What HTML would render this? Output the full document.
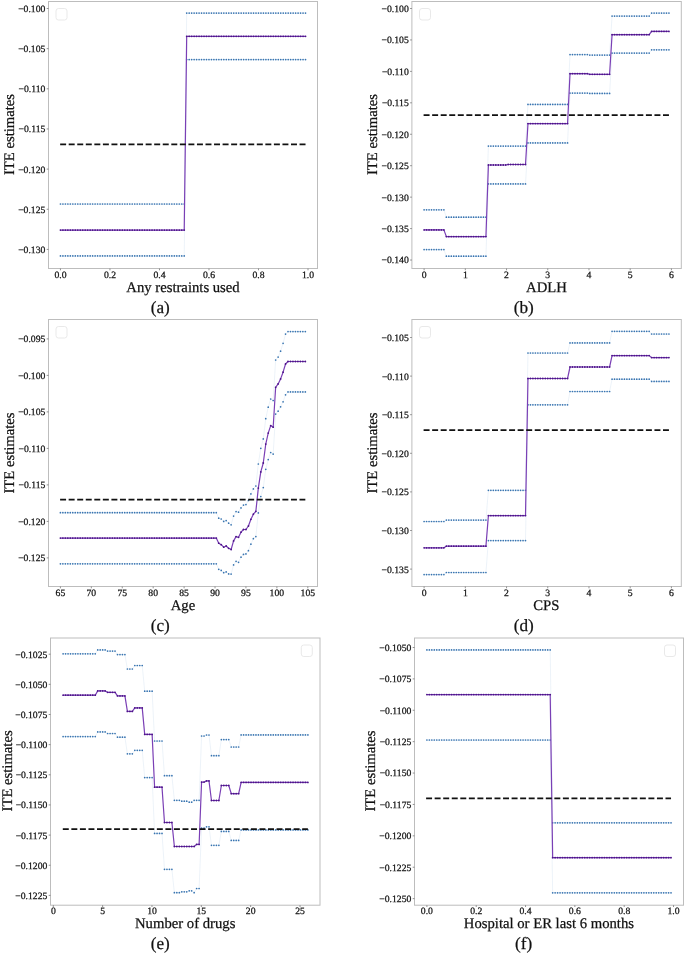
<!DOCTYPE html>
<html><head><meta charset="utf-8"><title>ITE plots</title>
<style>
html,body{margin:0;padding:0;background:#fff;}
svg{display:block;will-change:transform;}
text{font-family:"Liberation Serif",serif;fill:#111;stroke:#111;stroke-width:0.25px;text-rendering:geometricPrecision;}
.yt{font-size:9.7px;text-anchor:end;}
.xt{font-size:9.7px;text-anchor:middle;}
.xl{font-size:14.7px;text-anchor:middle;}
.yl{font-size:14.7px;text-anchor:middle;}
.cp{font-size:17.2px;text-anchor:middle;}
.sp{fill:none;stroke:#bdbdbd;stroke-width:1;}
.tk{stroke:#777;stroke-width:0.8;}
.lg{fill:none;stroke:#e3e3e3;stroke-width:0.8;}
.dash{stroke:#111;stroke-width:1.75;stroke-dasharray:5.97 2.58;}
.bl{fill:none;stroke:#dbe7f3;stroke-width:0.5;}
.bm{fill:none;stroke:none;marker-start:url(#mb);marker-mid:url(#mb);marker-end:url(#mb);}
.pl{fill:none;stroke:#7a3fb5;stroke-width:1.2;stroke-linejoin:round;}
.pm{fill:none;stroke:none;marker-start:url(#mp);marker-mid:url(#mp);marker-end:url(#mp);}
</style></head>
<body>
<svg width="685" height="954" viewBox="0 0 685 954">
<defs>
<marker id="mb" markerUnits="userSpaceOnUse" markerWidth="4" markerHeight="4" refX="2" refY="2" overflow="visible"><circle cx="2" cy="2" r="0.85" fill="#3874b0"/></marker>
<marker id="mp" markerUnits="userSpaceOnUse" markerWidth="4" markerHeight="4" refX="2" refY="2" overflow="visible"><circle cx="2" cy="2" r="0.9" fill="#4c1488"/></marker>
</defs>
<polyline points="60.45,204 62.93,204 65.4,204 67.88,204 70.35,204 72.83,204 75.3,204 77.78,204 80.25,204 82.73,204 85.2,204 87.68,204 90.16,204 92.63,204 95.11,204 97.58,204 100.06,204 102.53,204 105.01,204 107.48,204 109.96,204 112.44,204 114.91,204 117.39,204 119.86,204 122.34,204 124.81,204 127.29,204 129.76,204 132.24,204 134.72,204 137.19,204 139.67,204 142.14,204 144.62,204 147.09,204 149.57,204 152.04,204 154.52,204 156.99,204 159.47,204 161.95,204 164.42,204 166.9,204 169.37,204 171.85,204 174.32,204 176.8,204 179.27,204 181.75,204 184.22,204 186.7,13.1 189.18,13.1 191.65,13.1 194.13,13.1 196.6,13.1 199.08,13.1 201.55,13.1 204.03,13.1 206.5,13.1 208.98,13.1 211.46,13.1 213.93,13.1 216.41,13.1 218.88,13.1 221.36,13.1 223.83,13.1 226.31,13.1 228.78,13.1 231.26,13.1 233.74,13.1 236.21,13.1 238.69,13.1 241.16,13.1 243.64,13.1 246.11,13.1 248.59,13.1 251.06,13.1 253.54,13.1 256.01,13.1 258.49,13.1 260.97,13.1 263.44,13.1 265.92,13.1 268.39,13.1 270.87,13.1 273.34,13.1 275.82,13.1 278.29,13.1 280.77,13.1 283.25,13.1 285.72,13.1 288.2,13.1 290.67,13.1 293.15,13.1 295.62,13.1 298.1,13.1 300.57,13.1 303.05,13.1 305.52,13.1" class="bl"/>
<polyline points="60.45,204 62.93,204 65.4,204 67.88,204 70.35,204 72.83,204 75.3,204 77.78,204 80.25,204 82.73,204 85.2,204 87.68,204 90.16,204 92.63,204 95.11,204 97.58,204 100.06,204 102.53,204 105.01,204 107.48,204 109.96,204 112.44,204 114.91,204 117.39,204 119.86,204 122.34,204 124.81,204 127.29,204 129.76,204 132.24,204 134.72,204 137.19,204 139.67,204 142.14,204 144.62,204 147.09,204 149.57,204 152.04,204 154.52,204 156.99,204 159.47,204 161.95,204 164.42,204 166.9,204 169.37,204 171.85,204 174.32,204 176.8,204 179.27,204 181.75,204 184.22,204 186.7,13.1 189.18,13.1 191.65,13.1 194.13,13.1 196.6,13.1 199.08,13.1 201.55,13.1 204.03,13.1 206.5,13.1 208.98,13.1 211.46,13.1 213.93,13.1 216.41,13.1 218.88,13.1 221.36,13.1 223.83,13.1 226.31,13.1 228.78,13.1 231.26,13.1 233.74,13.1 236.21,13.1 238.69,13.1 241.16,13.1 243.64,13.1 246.11,13.1 248.59,13.1 251.06,13.1 253.54,13.1 256.01,13.1 258.49,13.1 260.97,13.1 263.44,13.1 265.92,13.1 268.39,13.1 270.87,13.1 273.34,13.1 275.82,13.1 278.29,13.1 280.77,13.1 283.25,13.1 285.72,13.1 288.2,13.1 290.67,13.1 293.15,13.1 295.62,13.1 298.1,13.1 300.57,13.1 303.05,13.1 305.52,13.1" class="bm"/>
<polyline points="60.45,255.9 62.93,255.9 65.4,255.9 67.88,255.9 70.35,255.9 72.83,255.9 75.3,255.9 77.78,255.9 80.25,255.9 82.73,255.9 85.2,255.9 87.68,255.9 90.16,255.9 92.63,255.9 95.11,255.9 97.58,255.9 100.06,255.9 102.53,255.9 105.01,255.9 107.48,255.9 109.96,255.9 112.44,255.9 114.91,255.9 117.39,255.9 119.86,255.9 122.34,255.9 124.81,255.9 127.29,255.9 129.76,255.9 132.24,255.9 134.72,255.9 137.19,255.9 139.67,255.9 142.14,255.9 144.62,255.9 147.09,255.9 149.57,255.9 152.04,255.9 154.52,255.9 156.99,255.9 159.47,255.9 161.95,255.9 164.42,255.9 166.9,255.9 169.37,255.9 171.85,255.9 174.32,255.9 176.8,255.9 179.27,255.9 181.75,255.9 184.22,255.9 186.7,59.6 189.18,59.6 191.65,59.6 194.13,59.6 196.6,59.6 199.08,59.6 201.55,59.6 204.03,59.6 206.5,59.6 208.98,59.6 211.46,59.6 213.93,59.6 216.41,59.6 218.88,59.6 221.36,59.6 223.83,59.6 226.31,59.6 228.78,59.6 231.26,59.6 233.74,59.6 236.21,59.6 238.69,59.6 241.16,59.6 243.64,59.6 246.11,59.6 248.59,59.6 251.06,59.6 253.54,59.6 256.01,59.6 258.49,59.6 260.97,59.6 263.44,59.6 265.92,59.6 268.39,59.6 270.87,59.6 273.34,59.6 275.82,59.6 278.29,59.6 280.77,59.6 283.25,59.6 285.72,59.6 288.2,59.6 290.67,59.6 293.15,59.6 295.62,59.6 298.1,59.6 300.57,59.6 303.05,59.6 305.52,59.6" class="bl"/>
<polyline points="60.45,255.9 62.93,255.9 65.4,255.9 67.88,255.9 70.35,255.9 72.83,255.9 75.3,255.9 77.78,255.9 80.25,255.9 82.73,255.9 85.2,255.9 87.68,255.9 90.16,255.9 92.63,255.9 95.11,255.9 97.58,255.9 100.06,255.9 102.53,255.9 105.01,255.9 107.48,255.9 109.96,255.9 112.44,255.9 114.91,255.9 117.39,255.9 119.86,255.9 122.34,255.9 124.81,255.9 127.29,255.9 129.76,255.9 132.24,255.9 134.72,255.9 137.19,255.9 139.67,255.9 142.14,255.9 144.62,255.9 147.09,255.9 149.57,255.9 152.04,255.9 154.52,255.9 156.99,255.9 159.47,255.9 161.95,255.9 164.42,255.9 166.9,255.9 169.37,255.9 171.85,255.9 174.32,255.9 176.8,255.9 179.27,255.9 181.75,255.9 184.22,255.9 186.7,59.6 189.18,59.6 191.65,59.6 194.13,59.6 196.6,59.6 199.08,59.6 201.55,59.6 204.03,59.6 206.5,59.6 208.98,59.6 211.46,59.6 213.93,59.6 216.41,59.6 218.88,59.6 221.36,59.6 223.83,59.6 226.31,59.6 228.78,59.6 231.26,59.6 233.74,59.6 236.21,59.6 238.69,59.6 241.16,59.6 243.64,59.6 246.11,59.6 248.59,59.6 251.06,59.6 253.54,59.6 256.01,59.6 258.49,59.6 260.97,59.6 263.44,59.6 265.92,59.6 268.39,59.6 270.87,59.6 273.34,59.6 275.82,59.6 278.29,59.6 280.77,59.6 283.25,59.6 285.72,59.6 288.2,59.6 290.67,59.6 293.15,59.6 295.62,59.6 298.1,59.6 300.57,59.6 303.05,59.6 305.52,59.6" class="bm"/>
<polyline points="60.45,230.1 62.93,230.1 65.4,230.1 67.88,230.1 70.35,230.1 72.83,230.1 75.3,230.1 77.78,230.1 80.25,230.1 82.73,230.1 85.2,230.1 87.68,230.1 90.16,230.1 92.63,230.1 95.11,230.1 97.58,230.1 100.06,230.1 102.53,230.1 105.01,230.1 107.48,230.1 109.96,230.1 112.44,230.1 114.91,230.1 117.39,230.1 119.86,230.1 122.34,230.1 124.81,230.1 127.29,230.1 129.76,230.1 132.24,230.1 134.72,230.1 137.19,230.1 139.67,230.1 142.14,230.1 144.62,230.1 147.09,230.1 149.57,230.1 152.04,230.1 154.52,230.1 156.99,230.1 159.47,230.1 161.95,230.1 164.42,230.1 166.9,230.1 169.37,230.1 171.85,230.1 174.32,230.1 176.8,230.1 179.27,230.1 181.75,230.1 184.22,230.1 186.7,36.3 189.18,36.3 191.65,36.3 194.13,36.3 196.6,36.3 199.08,36.3 201.55,36.3 204.03,36.3 206.5,36.3 208.98,36.3 211.46,36.3 213.93,36.3 216.41,36.3 218.88,36.3 221.36,36.3 223.83,36.3 226.31,36.3 228.78,36.3 231.26,36.3 233.74,36.3 236.21,36.3 238.69,36.3 241.16,36.3 243.64,36.3 246.11,36.3 248.59,36.3 251.06,36.3 253.54,36.3 256.01,36.3 258.49,36.3 260.97,36.3 263.44,36.3 265.92,36.3 268.39,36.3 270.87,36.3 273.34,36.3 275.82,36.3 278.29,36.3 280.77,36.3 283.25,36.3 285.72,36.3 288.2,36.3 290.67,36.3 293.15,36.3 295.62,36.3 298.1,36.3 300.57,36.3 303.05,36.3 305.52,36.3" class="pl"/>
<polyline points="60.45,230.1 62.93,230.1 65.4,230.1 67.88,230.1 70.35,230.1 72.83,230.1 75.3,230.1 77.78,230.1 80.25,230.1 82.73,230.1 85.2,230.1 87.68,230.1 90.16,230.1 92.63,230.1 95.11,230.1 97.58,230.1 100.06,230.1 102.53,230.1 105.01,230.1 107.48,230.1 109.96,230.1 112.44,230.1 114.91,230.1 117.39,230.1 119.86,230.1 122.34,230.1 124.81,230.1 127.29,230.1 129.76,230.1 132.24,230.1 134.72,230.1 137.19,230.1 139.67,230.1 142.14,230.1 144.62,230.1 147.09,230.1 149.57,230.1 152.04,230.1 154.52,230.1 156.99,230.1 159.47,230.1 161.95,230.1 164.42,230.1 166.9,230.1 169.37,230.1 171.85,230.1 174.32,230.1 176.8,230.1 179.27,230.1 181.75,230.1 184.22,230.1 186.7,36.3 189.18,36.3 191.65,36.3 194.13,36.3 196.6,36.3 199.08,36.3 201.55,36.3 204.03,36.3 206.5,36.3 208.98,36.3 211.46,36.3 213.93,36.3 216.41,36.3 218.88,36.3 221.36,36.3 223.83,36.3 226.31,36.3 228.78,36.3 231.26,36.3 233.74,36.3 236.21,36.3 238.69,36.3 241.16,36.3 243.64,36.3 246.11,36.3 248.59,36.3 251.06,36.3 253.54,36.3 256.01,36.3 258.49,36.3 260.97,36.3 263.44,36.3 265.92,36.3 268.39,36.3 270.87,36.3 273.34,36.3 275.82,36.3 278.29,36.3 280.77,36.3 283.25,36.3 285.72,36.3 288.2,36.3 290.67,36.3 293.15,36.3 295.62,36.3 298.1,36.3 300.57,36.3 303.05,36.3 305.52,36.3" class="pm"/>
<line x1="60.15" y1="144.45" x2="305.52" y2="144.45" class="dash"/>
<rect x="48.5" y="1.5" width="269" height="267" class="sp"/>
<rect x="56" y="8.5" width="11" height="11.5" rx="2.5" class="lg"/>
<line x1="46.7" y1="8.5" x2="48.5" y2="8.5" class="tk"/>
<text x="45.4" y="11.9" class="yt">−0.100</text>
<line x1="46.7" y1="48.65" x2="48.5" y2="48.65" class="tk"/>
<text x="45.4" y="52.05" class="yt">−0.105</text>
<line x1="46.7" y1="88.8" x2="48.5" y2="88.8" class="tk"/>
<text x="45.4" y="92.2" class="yt">−0.110</text>
<line x1="46.7" y1="128.95" x2="48.5" y2="128.95" class="tk"/>
<text x="45.4" y="132.35" class="yt">−0.115</text>
<line x1="46.7" y1="169.1" x2="48.5" y2="169.1" class="tk"/>
<text x="45.4" y="172.5" class="yt">−0.120</text>
<line x1="46.7" y1="209.25" x2="48.5" y2="209.25" class="tk"/>
<text x="45.4" y="212.65" class="yt">−0.125</text>
<line x1="46.7" y1="249.4" x2="48.5" y2="249.4" class="tk"/>
<text x="45.4" y="252.8" class="yt">−0.130</text>
<line x1="60.45" y1="268.5" x2="60.45" y2="270.3" class="tk"/>
<text x="60.45" y="277.7" class="xt">0.0</text>
<line x1="109.96" y1="268.5" x2="109.96" y2="270.3" class="tk"/>
<text x="109.96" y="277.7" class="xt">0.2</text>
<line x1="159.47" y1="268.5" x2="159.47" y2="270.3" class="tk"/>
<text x="159.47" y="277.7" class="xt">0.4</text>
<line x1="208.98" y1="268.5" x2="208.98" y2="270.3" class="tk"/>
<text x="208.98" y="277.7" class="xt">0.6</text>
<line x1="258.49" y1="268.5" x2="258.49" y2="270.3" class="tk"/>
<text x="258.49" y="277.7" class="xt">0.8</text>
<line x1="308" y1="268.5" x2="308" y2="270.3" class="tk"/>
<text x="308" y="277.7" class="xt">1.0</text>
<text x="183" y="291.6" class="xl">Any restraints used</text>
<text x="160.3" y="313.1" class="cp">(a)</text>
<text transform="translate(13.8,134.5) rotate(-90)" class="yl">ITE estimates</text>
<polyline points="424.1,209.8 426.57,209.8 429.05,209.8 431.52,209.8 433.99,209.8 436.47,209.8 438.94,209.8 441.41,209.8 443.89,209.8 446.36,217.2 448.83,217.2 451.31,217.2 453.78,217.2 456.25,217.2 458.72,217.2 461.2,217.2 463.67,217.2 466.14,217.2 468.62,217.2 471.09,217.2 473.56,217.2 476.04,217.2 478.51,217.2 480.98,217.2 483.46,217.2 485.93,217.2 488.4,146.1 490.88,146.1 493.35,146.1 495.82,146.1 498.3,146.1 500.77,146.1 503.24,146.1 505.72,146.1 508.19,146.1 510.66,146.1 513.14,146.1 515.61,146.1 518.08,146.1 520.55,146.1 523.03,146.1 525.5,146.1 527.97,104.4 530.45,104.4 532.92,104.4 535.39,104.4 537.87,104.4 540.34,104.4 542.81,104.4 545.29,104.4 547.76,104.4 550.23,104.4 552.71,104.4 555.18,104.4 557.65,104.4 560.13,104.4 562.6,104.4 565.07,104.4 567.55,104.4 570.02,54.6 572.49,54.6 574.97,54.6 577.44,54.6 579.91,54.6 582.38,54.6 584.86,54.6 587.33,54.6 589.8,55.1 592.28,55.1 594.75,55.1 597.22,55.1 599.7,55.1 602.17,55.1 604.64,55.1 607.12,55.1 609.59,55.1 612.06,16.1 614.54,16.1 617.01,16.1 619.48,16.1 621.96,16.1 624.43,16.1 626.9,16.1 629.38,16.1 631.85,16.1 634.32,16.1 636.8,16.1 639.27,16.1 641.74,16.1 644.21,16.1 646.69,16.1 649.16,16.1 651.63,13.1 654.11,13.1 656.58,13.1 659.05,13.1 661.53,13.1 664,13.1 666.47,13.1 668.95,13.1" class="bl"/>
<polyline points="424.1,209.8 426.57,209.8 429.05,209.8 431.52,209.8 433.99,209.8 436.47,209.8 438.94,209.8 441.41,209.8 443.89,209.8 446.36,217.2 448.83,217.2 451.31,217.2 453.78,217.2 456.25,217.2 458.72,217.2 461.2,217.2 463.67,217.2 466.14,217.2 468.62,217.2 471.09,217.2 473.56,217.2 476.04,217.2 478.51,217.2 480.98,217.2 483.46,217.2 485.93,217.2 488.4,146.1 490.88,146.1 493.35,146.1 495.82,146.1 498.3,146.1 500.77,146.1 503.24,146.1 505.72,146.1 508.19,146.1 510.66,146.1 513.14,146.1 515.61,146.1 518.08,146.1 520.55,146.1 523.03,146.1 525.5,146.1 527.97,104.4 530.45,104.4 532.92,104.4 535.39,104.4 537.87,104.4 540.34,104.4 542.81,104.4 545.29,104.4 547.76,104.4 550.23,104.4 552.71,104.4 555.18,104.4 557.65,104.4 560.13,104.4 562.6,104.4 565.07,104.4 567.55,104.4 570.02,54.6 572.49,54.6 574.97,54.6 577.44,54.6 579.91,54.6 582.38,54.6 584.86,54.6 587.33,54.6 589.8,55.1 592.28,55.1 594.75,55.1 597.22,55.1 599.7,55.1 602.17,55.1 604.64,55.1 607.12,55.1 609.59,55.1 612.06,16.1 614.54,16.1 617.01,16.1 619.48,16.1 621.96,16.1 624.43,16.1 626.9,16.1 629.38,16.1 631.85,16.1 634.32,16.1 636.8,16.1 639.27,16.1 641.74,16.1 644.21,16.1 646.69,16.1 649.16,16.1 651.63,13.1 654.11,13.1 656.58,13.1 659.05,13.1 661.53,13.1 664,13.1 666.47,13.1 668.95,13.1" class="bm"/>
<polyline points="424.1,249.6 426.57,249.6 429.05,249.6 431.52,249.6 433.99,249.6 436.47,249.6 438.94,249.6 441.41,249.6 443.89,249.6 446.36,256.2 448.83,256.2 451.31,256.2 453.78,256.2 456.25,256.2 458.72,256.2 461.2,256.2 463.67,256.2 466.14,256.2 468.62,256.2 471.09,256.2 473.56,256.2 476.04,256.2 478.51,256.2 480.98,256.2 483.46,256.2 485.93,256.2 488.4,183.9 490.88,183.9 493.35,183.9 495.82,183.9 498.3,183.9 500.77,183.9 503.24,183.9 505.72,183.9 508.19,183.9 510.66,183.9 513.14,183.9 515.61,183.9 518.08,183.9 520.55,183.9 523.03,183.9 525.5,183.9 527.97,142.9 530.45,142.9 532.92,142.9 535.39,142.9 537.87,142.9 540.34,142.9 542.81,142.9 545.29,142.9 547.76,142.9 550.23,142.9 552.71,142.9 555.18,142.9 557.65,142.9 560.13,142.9 562.6,142.9 565.07,142.9 567.55,142.9 570.02,93.1 572.49,93.1 574.97,93.1 577.44,93.1 579.91,93.1 582.38,93.1 584.86,93.1 587.33,93.1 589.8,93.4 592.28,93.4 594.75,93.4 597.22,93.4 599.7,93.4 602.17,93.4 604.64,93.4 607.12,93.4 609.59,93.4 612.06,53.1 614.54,53.1 617.01,53.1 619.48,53.1 621.96,53.1 624.43,53.1 626.9,53.1 629.38,53.1 631.85,53.1 634.32,53.1 636.8,53.1 639.27,53.1 641.74,53.1 644.21,53.1 646.69,53.1 649.16,53.1 651.63,49.8 654.11,49.8 656.58,49.8 659.05,49.8 661.53,49.8 664,49.8 666.47,49.8 668.95,49.8" class="bl"/>
<polyline points="424.1,249.6 426.57,249.6 429.05,249.6 431.52,249.6 433.99,249.6 436.47,249.6 438.94,249.6 441.41,249.6 443.89,249.6 446.36,256.2 448.83,256.2 451.31,256.2 453.78,256.2 456.25,256.2 458.72,256.2 461.2,256.2 463.67,256.2 466.14,256.2 468.62,256.2 471.09,256.2 473.56,256.2 476.04,256.2 478.51,256.2 480.98,256.2 483.46,256.2 485.93,256.2 488.4,183.9 490.88,183.9 493.35,183.9 495.82,183.9 498.3,183.9 500.77,183.9 503.24,183.9 505.72,183.9 508.19,183.9 510.66,183.9 513.14,183.9 515.61,183.9 518.08,183.9 520.55,183.9 523.03,183.9 525.5,183.9 527.97,142.9 530.45,142.9 532.92,142.9 535.39,142.9 537.87,142.9 540.34,142.9 542.81,142.9 545.29,142.9 547.76,142.9 550.23,142.9 552.71,142.9 555.18,142.9 557.65,142.9 560.13,142.9 562.6,142.9 565.07,142.9 567.55,142.9 570.02,93.1 572.49,93.1 574.97,93.1 577.44,93.1 579.91,93.1 582.38,93.1 584.86,93.1 587.33,93.1 589.8,93.4 592.28,93.4 594.75,93.4 597.22,93.4 599.7,93.4 602.17,93.4 604.64,93.4 607.12,93.4 609.59,93.4 612.06,53.1 614.54,53.1 617.01,53.1 619.48,53.1 621.96,53.1 624.43,53.1 626.9,53.1 629.38,53.1 631.85,53.1 634.32,53.1 636.8,53.1 639.27,53.1 641.74,53.1 644.21,53.1 646.69,53.1 649.16,53.1 651.63,49.8 654.11,49.8 656.58,49.8 659.05,49.8 661.53,49.8 664,49.8 666.47,49.8 668.95,49.8" class="bm"/>
<polyline points="424.1,229.9 426.57,229.9 429.05,229.9 431.52,229.9 433.99,229.9 436.47,229.9 438.94,229.9 441.41,229.9 443.89,229.9 446.36,236.6 448.83,236.6 451.31,236.6 453.78,236.6 456.25,236.6 458.72,236.6 461.2,236.6 463.67,236.6 466.14,236.6 468.62,236.6 471.09,236.6 473.56,236.6 476.04,236.6 478.51,236.6 480.98,236.6 483.46,236.6 485.93,236.6 488.4,165 490.88,165 493.35,165 495.82,165 498.3,165 500.77,165 503.24,165 505.72,165 508.19,164.5 510.66,164.5 513.14,164.5 515.61,164.5 518.08,164.5 520.55,164.5 523.03,164.5 525.5,164.5 527.97,123.6 530.45,123.6 532.92,123.6 535.39,123.6 537.87,123.6 540.34,123.6 542.81,123.6 545.29,123.6 547.76,123.6 550.23,123.6 552.71,123.6 555.18,123.6 557.65,123.6 560.13,123.6 562.6,123.6 565.07,123.6 567.55,123.6 570.02,73.7 572.49,73.7 574.97,73.7 577.44,73.7 579.91,73.7 582.38,73.7 584.86,73.7 587.33,73.7 589.8,74.3 592.28,74.3 594.75,74.3 597.22,74.3 599.7,74.3 602.17,74.3 604.64,74.3 607.12,74.3 609.59,74.3 612.06,34.7 614.54,34.7 617.01,34.7 619.48,34.7 621.96,34.7 624.43,34.7 626.9,34.7 629.38,34.7 631.85,34.7 634.32,34.7 636.8,34.7 639.27,34.7 641.74,34.7 644.21,34.7 646.69,34.7 649.16,34.7 651.63,31.4 654.11,31.4 656.58,31.4 659.05,31.4 661.53,31.4 664,31.4 666.47,31.4 668.95,31.4" class="pl"/>
<polyline points="424.1,229.9 426.57,229.9 429.05,229.9 431.52,229.9 433.99,229.9 436.47,229.9 438.94,229.9 441.41,229.9 443.89,229.9 446.36,236.6 448.83,236.6 451.31,236.6 453.78,236.6 456.25,236.6 458.72,236.6 461.2,236.6 463.67,236.6 466.14,236.6 468.62,236.6 471.09,236.6 473.56,236.6 476.04,236.6 478.51,236.6 480.98,236.6 483.46,236.6 485.93,236.6 488.4,165 490.88,165 493.35,165 495.82,165 498.3,165 500.77,165 503.24,165 505.72,165 508.19,164.5 510.66,164.5 513.14,164.5 515.61,164.5 518.08,164.5 520.55,164.5 523.03,164.5 525.5,164.5 527.97,123.6 530.45,123.6 532.92,123.6 535.39,123.6 537.87,123.6 540.34,123.6 542.81,123.6 545.29,123.6 547.76,123.6 550.23,123.6 552.71,123.6 555.18,123.6 557.65,123.6 560.13,123.6 562.6,123.6 565.07,123.6 567.55,123.6 570.02,73.7 572.49,73.7 574.97,73.7 577.44,73.7 579.91,73.7 582.38,73.7 584.86,73.7 587.33,73.7 589.8,74.3 592.28,74.3 594.75,74.3 597.22,74.3 599.7,74.3 602.17,74.3 604.64,74.3 607.12,74.3 609.59,74.3 612.06,34.7 614.54,34.7 617.01,34.7 619.48,34.7 621.96,34.7 624.43,34.7 626.9,34.7 629.38,34.7 631.85,34.7 634.32,34.7 636.8,34.7 639.27,34.7 641.74,34.7 644.21,34.7 646.69,34.7 649.16,34.7 651.63,31.4 654.11,31.4 656.58,31.4 659.05,31.4 661.53,31.4 664,31.4 666.47,31.4 668.95,31.4" class="pm"/>
<line x1="423.6" y1="115.2" x2="668.95" y2="115.2" class="dash"/>
<rect x="411.9" y="1.5" width="269.4" height="267" class="sp"/>
<rect x="419.5" y="8.5" width="11" height="11.5" rx="2.5" class="lg"/>
<line x1="410.1" y1="8.5" x2="411.9" y2="8.5" class="tk"/>
<text x="408.8" y="11.9" class="yt">−0.100</text>
<line x1="410.1" y1="39.94" x2="411.9" y2="39.94" class="tk"/>
<text x="408.8" y="43.34" class="yt">−0.105</text>
<line x1="410.1" y1="71.38" x2="411.9" y2="71.38" class="tk"/>
<text x="408.8" y="74.78" class="yt">−0.110</text>
<line x1="410.1" y1="102.82" x2="411.9" y2="102.82" class="tk"/>
<text x="408.8" y="106.22" class="yt">−0.115</text>
<line x1="410.1" y1="134.26" x2="411.9" y2="134.26" class="tk"/>
<text x="408.8" y="137.66" class="yt">−0.120</text>
<line x1="410.1" y1="165.7" x2="411.9" y2="165.7" class="tk"/>
<text x="408.8" y="169.1" class="yt">−0.125</text>
<line x1="410.1" y1="197.14" x2="411.9" y2="197.14" class="tk"/>
<text x="408.8" y="200.54" class="yt">−0.130</text>
<line x1="410.1" y1="228.58" x2="411.9" y2="228.58" class="tk"/>
<text x="408.8" y="231.98" class="yt">−0.135</text>
<line x1="410.1" y1="260.02" x2="411.9" y2="260.02" class="tk"/>
<text x="408.8" y="263.42" class="yt">−0.140</text>
<line x1="424.1" y1="268.5" x2="424.1" y2="270.3" class="tk"/>
<text x="424.1" y="277.7" class="xt">0</text>
<line x1="465.32" y1="268.5" x2="465.32" y2="270.3" class="tk"/>
<text x="465.32" y="277.7" class="xt">1</text>
<line x1="506.54" y1="268.5" x2="506.54" y2="270.3" class="tk"/>
<text x="506.54" y="277.7" class="xt">2</text>
<line x1="547.76" y1="268.5" x2="547.76" y2="270.3" class="tk"/>
<text x="547.76" y="277.7" class="xt">3</text>
<line x1="588.98" y1="268.5" x2="588.98" y2="270.3" class="tk"/>
<text x="588.98" y="277.7" class="xt">4</text>
<line x1="630.2" y1="268.5" x2="630.2" y2="270.3" class="tk"/>
<text x="630.2" y="277.7" class="xt">5</text>
<line x1="671.42" y1="268.5" x2="671.42" y2="270.3" class="tk"/>
<text x="671.42" y="277.7" class="xt">6</text>
<text x="546.5" y="291.6" class="xl">ADLH</text>
<text x="523.7" y="313.1" class="cp">(b)</text>
<text transform="translate(377.3,134.5) rotate(-90)" class="yl">ITE estimates</text>
<polyline points="60.4,512.7 62.87,512.7 65.35,512.7 67.82,512.7 70.3,512.7 72.77,512.7 75.24,512.7 77.72,512.7 80.19,512.7 82.67,512.7 85.14,512.7 87.61,512.7 90.09,512.7 92.56,512.7 95.04,512.7 97.51,512.7 99.98,512.7 102.46,512.7 104.93,512.7 107.41,512.7 109.88,512.7 112.36,512.7 114.83,512.7 117.3,512.7 119.78,512.7 122.25,512.7 124.73,512.7 127.2,512.7 129.67,512.7 132.15,512.7 134.62,512.7 137.1,512.7 139.57,512.7 142.04,512.7 144.52,512.7 146.99,512.7 149.47,512.7 151.94,512.7 154.41,512.7 156.89,512.7 159.36,512.7 161.84,512.7 164.31,512.7 166.78,512.7 169.26,512.7 171.73,512.7 174.21,512.7 176.68,512.7 179.15,512.7 181.63,512.7 184.1,512.7 186.58,512.7 189.05,512.7 191.53,512.7 194,512.7 196.47,512.7 198.95,512.7 201.42,512.7 203.9,512.7 206.37,512.7 208.84,512.7 211.32,512.7 213.79,512.7 216.27,512.7 218.74,518.2 221.21,519 223.69,521.4 226.16,520.6 228.64,523.2 231.11,524.8 233.58,516.1 236.06,511.6 238.53,512.2 241.01,507.9 243.48,505.1 245.95,504.6 248.43,500.5 250.9,493.9 253.38,488.9 255.85,486 258.32,464 260.8,448.3 263.27,438.9 265.75,418.7 268.22,407.2 270.7,399 273.17,400.5 275.64,360 278.12,357.1 280.59,351.2 283.07,343.3 285.54,334.1 288.01,331.6 290.49,331.6 292.96,331.6 295.44,331.6 297.91,331.6 300.38,331.6 302.86,331.6 305.33,331.6" class="bl"/>
<polyline points="60.4,512.7 62.87,512.7 65.35,512.7 67.82,512.7 70.3,512.7 72.77,512.7 75.24,512.7 77.72,512.7 80.19,512.7 82.67,512.7 85.14,512.7 87.61,512.7 90.09,512.7 92.56,512.7 95.04,512.7 97.51,512.7 99.98,512.7 102.46,512.7 104.93,512.7 107.41,512.7 109.88,512.7 112.36,512.7 114.83,512.7 117.3,512.7 119.78,512.7 122.25,512.7 124.73,512.7 127.2,512.7 129.67,512.7 132.15,512.7 134.62,512.7 137.1,512.7 139.57,512.7 142.04,512.7 144.52,512.7 146.99,512.7 149.47,512.7 151.94,512.7 154.41,512.7 156.89,512.7 159.36,512.7 161.84,512.7 164.31,512.7 166.78,512.7 169.26,512.7 171.73,512.7 174.21,512.7 176.68,512.7 179.15,512.7 181.63,512.7 184.1,512.7 186.58,512.7 189.05,512.7 191.53,512.7 194,512.7 196.47,512.7 198.95,512.7 201.42,512.7 203.9,512.7 206.37,512.7 208.84,512.7 211.32,512.7 213.79,512.7 216.27,512.7 218.74,518.2 221.21,519 223.69,521.4 226.16,520.6 228.64,523.2 231.11,524.8 233.58,516.1 236.06,511.6 238.53,512.2 241.01,507.9 243.48,505.1 245.95,504.6 248.43,500.5 250.9,493.9 253.38,488.9 255.85,486 258.32,464 260.8,448.3 263.27,438.9 265.75,418.7 268.22,407.2 270.7,399 273.17,400.5 275.64,360 278.12,357.1 280.59,351.2 283.07,343.3 285.54,334.1 288.01,331.6 290.49,331.6 292.96,331.6 295.44,331.6 297.91,331.6 300.38,331.6 302.86,331.6 305.33,331.6" class="bm"/>
<polyline points="60.4,563.8 62.87,563.8 65.35,563.8 67.82,563.8 70.3,563.8 72.77,563.8 75.24,563.8 77.72,563.8 80.19,563.8 82.67,563.8 85.14,563.8 87.61,563.8 90.09,563.8 92.56,563.8 95.04,563.8 97.51,563.8 99.98,563.8 102.46,563.8 104.93,563.8 107.41,563.8 109.88,563.8 112.36,563.8 114.83,563.8 117.3,563.8 119.78,563.8 122.25,563.8 124.73,563.8 127.2,563.8 129.67,563.8 132.15,563.8 134.62,563.8 137.1,563.8 139.57,563.8 142.04,563.8 144.52,563.8 146.99,563.8 149.47,563.8 151.94,563.8 154.41,563.8 156.89,563.8 159.36,563.8 161.84,563.8 164.31,563.8 166.78,563.8 169.26,563.8 171.73,563.8 174.21,563.8 176.68,563.8 179.15,563.8 181.63,563.8 184.1,563.8 186.58,563.8 189.05,563.8 191.53,563.8 194,563.8 196.47,563.8 198.95,563.8 201.42,563.8 203.9,563.8 206.37,563.8 208.84,563.8 211.32,563.8 213.79,563.8 216.27,563.8 218.74,569.3 221.21,570.4 223.69,572.7 226.16,571.9 228.64,573.9 231.11,574.1 233.58,564.9 236.06,561.3 238.53,562.3 241.01,557.2 243.48,554.4 245.95,553.9 248.43,550.7 250.9,544.2 253.38,538.7 255.85,536.6 258.32,512.9 260.8,496.5 263.27,487.6 265.75,469.3 268.22,459.6 270.7,452.5 273.17,454.1 275.64,414.1 278.12,411.2 280.59,406.8 283.07,401.8 285.54,394.8 288.01,391.9 290.49,391.9 292.96,391.9 295.44,391.9 297.91,391.9 300.38,391.9 302.86,391.9 305.33,391.9" class="bl"/>
<polyline points="60.4,563.8 62.87,563.8 65.35,563.8 67.82,563.8 70.3,563.8 72.77,563.8 75.24,563.8 77.72,563.8 80.19,563.8 82.67,563.8 85.14,563.8 87.61,563.8 90.09,563.8 92.56,563.8 95.04,563.8 97.51,563.8 99.98,563.8 102.46,563.8 104.93,563.8 107.41,563.8 109.88,563.8 112.36,563.8 114.83,563.8 117.3,563.8 119.78,563.8 122.25,563.8 124.73,563.8 127.2,563.8 129.67,563.8 132.15,563.8 134.62,563.8 137.1,563.8 139.57,563.8 142.04,563.8 144.52,563.8 146.99,563.8 149.47,563.8 151.94,563.8 154.41,563.8 156.89,563.8 159.36,563.8 161.84,563.8 164.31,563.8 166.78,563.8 169.26,563.8 171.73,563.8 174.21,563.8 176.68,563.8 179.15,563.8 181.63,563.8 184.1,563.8 186.58,563.8 189.05,563.8 191.53,563.8 194,563.8 196.47,563.8 198.95,563.8 201.42,563.8 203.9,563.8 206.37,563.8 208.84,563.8 211.32,563.8 213.79,563.8 216.27,563.8 218.74,569.3 221.21,570.4 223.69,572.7 226.16,571.9 228.64,573.9 231.11,574.1 233.58,564.9 236.06,561.3 238.53,562.3 241.01,557.2 243.48,554.4 245.95,553.9 248.43,550.7 250.9,544.2 253.38,538.7 255.85,536.6 258.32,512.9 260.8,496.5 263.27,487.6 265.75,469.3 268.22,459.6 270.7,452.5 273.17,454.1 275.64,414.1 278.12,411.2 280.59,406.8 283.07,401.8 285.54,394.8 288.01,391.9 290.49,391.9 292.96,391.9 295.44,391.9 297.91,391.9 300.38,391.9 302.86,391.9 305.33,391.9" class="bm"/>
<polyline points="60.4,538.1 62.87,538.1 65.35,538.1 67.82,538.1 70.3,538.1 72.77,538.1 75.24,538.1 77.72,538.1 80.19,538.1 82.67,538.1 85.14,538.1 87.61,538.1 90.09,538.1 92.56,538.1 95.04,538.1 97.51,538.1 99.98,538.1 102.46,538.1 104.93,538.1 107.41,538.1 109.88,538.1 112.36,538.1 114.83,538.1 117.3,538.1 119.78,538.1 122.25,538.1 124.73,538.1 127.2,538.1 129.67,538.1 132.15,538.1 134.62,538.1 137.1,538.1 139.57,538.1 142.04,538.1 144.52,538.1 146.99,538.1 149.47,538.1 151.94,538.1 154.41,538.1 156.89,538.1 159.36,538.1 161.84,538.1 164.31,538.1 166.78,538.1 169.26,538.1 171.73,538.1 174.21,538.1 176.68,538.1 179.15,538.1 181.63,538.1 184.1,538.1 186.58,538.1 189.05,538.1 191.53,538.1 194,538.1 196.47,538.1 198.95,538.1 201.42,538.1 203.9,538.1 206.37,538.1 208.84,538.1 211.32,538.1 213.79,538.1 216.27,538.1 218.74,543.2 221.21,544.7 223.69,547.2 226.16,546 228.64,548.3 231.11,549.5 233.58,540.9 236.06,536.6 238.53,537.3 241.01,532.2 243.48,529.5 245.95,529.5 248.43,526 250.9,519.3 253.38,514.2 255.85,511.3 258.32,488.1 260.8,471.9 263.27,463 265.75,444.1 268.22,433.1 270.7,425.6 273.17,427.2 275.64,387.3 278.12,383.9 280.59,378.9 283.07,372.2 285.54,364 288.01,361.5 290.49,361.5 292.96,361.5 295.44,361.5 297.91,361.5 300.38,361.5 302.86,361.5 305.33,361.5" class="pl"/>
<polyline points="60.4,538.1 62.87,538.1 65.35,538.1 67.82,538.1 70.3,538.1 72.77,538.1 75.24,538.1 77.72,538.1 80.19,538.1 82.67,538.1 85.14,538.1 87.61,538.1 90.09,538.1 92.56,538.1 95.04,538.1 97.51,538.1 99.98,538.1 102.46,538.1 104.93,538.1 107.41,538.1 109.88,538.1 112.36,538.1 114.83,538.1 117.3,538.1 119.78,538.1 122.25,538.1 124.73,538.1 127.2,538.1 129.67,538.1 132.15,538.1 134.62,538.1 137.1,538.1 139.57,538.1 142.04,538.1 144.52,538.1 146.99,538.1 149.47,538.1 151.94,538.1 154.41,538.1 156.89,538.1 159.36,538.1 161.84,538.1 164.31,538.1 166.78,538.1 169.26,538.1 171.73,538.1 174.21,538.1 176.68,538.1 179.15,538.1 181.63,538.1 184.1,538.1 186.58,538.1 189.05,538.1 191.53,538.1 194,538.1 196.47,538.1 198.95,538.1 201.42,538.1 203.9,538.1 206.37,538.1 208.84,538.1 211.32,538.1 213.79,538.1 216.27,538.1 218.74,543.2 221.21,544.7 223.69,547.2 226.16,546 228.64,548.3 231.11,549.5 233.58,540.9 236.06,536.6 238.53,537.3 241.01,532.2 243.48,529.5 245.95,529.5 248.43,526 250.9,519.3 253.38,514.2 255.85,511.3 258.32,488.1 260.8,471.9 263.27,463 265.75,444.1 268.22,433.1 270.7,425.6 273.17,427.2 275.64,387.3 278.12,383.9 280.59,378.9 283.07,372.2 285.54,364 288.01,361.5 290.49,361.5 292.96,361.5 295.44,361.5 297.91,361.5 300.38,361.5 302.86,361.5 305.33,361.5" class="pm"/>
<line x1="60.1" y1="499.6" x2="305.33" y2="499.6" class="dash"/>
<rect x="48.5" y="319.5" width="269" height="267" class="sp"/>
<rect x="56" y="326.5" width="11" height="11.5" rx="2.5" class="lg"/>
<line x1="46.7" y1="338.9" x2="48.5" y2="338.9" class="tk"/>
<text x="45.4" y="342.3" class="yt">−0.095</text>
<line x1="46.7" y1="375.4" x2="48.5" y2="375.4" class="tk"/>
<text x="45.4" y="378.8" class="yt">−0.100</text>
<line x1="46.7" y1="411.9" x2="48.5" y2="411.9" class="tk"/>
<text x="45.4" y="415.3" class="yt">−0.105</text>
<line x1="46.7" y1="448.4" x2="48.5" y2="448.4" class="tk"/>
<text x="45.4" y="451.8" class="yt">−0.110</text>
<line x1="46.7" y1="484.9" x2="48.5" y2="484.9" class="tk"/>
<text x="45.4" y="488.3" class="yt">−0.115</text>
<line x1="46.7" y1="521.4" x2="48.5" y2="521.4" class="tk"/>
<text x="45.4" y="524.8" class="yt">−0.120</text>
<line x1="46.7" y1="557.9" x2="48.5" y2="557.9" class="tk"/>
<text x="45.4" y="561.3" class="yt">−0.125</text>
<line x1="60.4" y1="586.5" x2="60.4" y2="588.3" class="tk"/>
<text x="60.4" y="595.7" class="xt">65</text>
<line x1="91.33" y1="586.5" x2="91.33" y2="588.3" class="tk"/>
<text x="91.33" y="595.7" class="xt">70</text>
<line x1="122.25" y1="586.5" x2="122.25" y2="588.3" class="tk"/>
<text x="122.25" y="595.7" class="xt">75</text>
<line x1="153.18" y1="586.5" x2="153.18" y2="588.3" class="tk"/>
<text x="153.18" y="595.7" class="xt">80</text>
<line x1="184.1" y1="586.5" x2="184.1" y2="588.3" class="tk"/>
<text x="184.1" y="595.7" class="xt">85</text>
<line x1="215.03" y1="586.5" x2="215.03" y2="588.3" class="tk"/>
<text x="215.03" y="595.7" class="xt">90</text>
<line x1="245.95" y1="586.5" x2="245.95" y2="588.3" class="tk"/>
<text x="245.95" y="595.7" class="xt">95</text>
<line x1="276.88" y1="586.5" x2="276.88" y2="588.3" class="tk"/>
<text x="276.88" y="595.7" class="xt">100</text>
<line x1="307.8" y1="586.5" x2="307.8" y2="588.3" class="tk"/>
<text x="307.8" y="595.7" class="xt">105</text>
<text x="183" y="609.8" class="xl">Age</text>
<text x="160.3" y="631.1" class="cp">(c)</text>
<text transform="translate(13.8,453) rotate(-90)" class="yl">ITE estimates</text>
<polyline points="424.1,521.5 426.57,521.5 429.05,521.5 431.52,521.5 433.99,521.5 436.47,521.5 438.94,521.5 441.41,521.5 443.89,521.5 446.36,520.1 448.83,520.1 451.31,520.1 453.78,520.1 456.25,520.1 458.72,520.1 461.2,520.1 463.67,520.1 466.14,520.1 468.62,520.1 471.09,520.1 473.56,520.1 476.04,520.1 478.51,520.1 480.98,520.1 483.46,520.1 485.93,520.1 488.4,490.3 490.88,490.3 493.35,490.3 495.82,490.3 498.3,490.3 500.77,490.3 503.24,490.3 505.72,490.3 508.19,490.3 510.66,490.3 513.14,490.3 515.61,490.3 518.08,490.3 520.55,490.3 523.03,490.3 525.5,490.3 527.97,353 530.45,353 532.92,353 535.39,353 537.87,353 540.34,353 542.81,353 545.29,353 547.76,353 550.23,353 552.71,353 555.18,353 557.65,353 560.13,353 562.6,353 565.07,353 567.55,353 570.02,342.9 572.49,342.9 574.97,342.9 577.44,342.9 579.91,342.9 582.38,342.9 584.86,342.9 587.33,342.9 589.8,342.9 592.28,342.9 594.75,342.9 597.22,342.9 599.7,342.9 602.17,342.9 604.64,342.9 607.12,342.9 609.59,342.9 612.06,331.3 614.54,331.3 617.01,331.3 619.48,331.3 621.96,331.3 624.43,331.3 626.9,331.3 629.38,331.3 631.85,331.3 634.32,331.3 636.8,331.3 639.27,331.3 641.74,331.3 644.21,331.3 646.69,331.3 649.16,331.3 651.63,334 654.11,334 656.58,334 659.05,334 661.53,334 664,334 666.47,334 668.95,334" class="bl"/>
<polyline points="424.1,521.5 426.57,521.5 429.05,521.5 431.52,521.5 433.99,521.5 436.47,521.5 438.94,521.5 441.41,521.5 443.89,521.5 446.36,520.1 448.83,520.1 451.31,520.1 453.78,520.1 456.25,520.1 458.72,520.1 461.2,520.1 463.67,520.1 466.14,520.1 468.62,520.1 471.09,520.1 473.56,520.1 476.04,520.1 478.51,520.1 480.98,520.1 483.46,520.1 485.93,520.1 488.4,490.3 490.88,490.3 493.35,490.3 495.82,490.3 498.3,490.3 500.77,490.3 503.24,490.3 505.72,490.3 508.19,490.3 510.66,490.3 513.14,490.3 515.61,490.3 518.08,490.3 520.55,490.3 523.03,490.3 525.5,490.3 527.97,353 530.45,353 532.92,353 535.39,353 537.87,353 540.34,353 542.81,353 545.29,353 547.76,353 550.23,353 552.71,353 555.18,353 557.65,353 560.13,353 562.6,353 565.07,353 567.55,353 570.02,342.9 572.49,342.9 574.97,342.9 577.44,342.9 579.91,342.9 582.38,342.9 584.86,342.9 587.33,342.9 589.8,342.9 592.28,342.9 594.75,342.9 597.22,342.9 599.7,342.9 602.17,342.9 604.64,342.9 607.12,342.9 609.59,342.9 612.06,331.3 614.54,331.3 617.01,331.3 619.48,331.3 621.96,331.3 624.43,331.3 626.9,331.3 629.38,331.3 631.85,331.3 634.32,331.3 636.8,331.3 639.27,331.3 641.74,331.3 644.21,331.3 646.69,331.3 649.16,331.3 651.63,334 654.11,334 656.58,334 659.05,334 661.53,334 664,334 666.47,334 668.95,334" class="bm"/>
<polyline points="424.1,574.6 426.57,574.6 429.05,574.6 431.52,574.6 433.99,574.6 436.47,574.6 438.94,574.6 441.41,574.6 443.89,574.6 446.36,572.5 448.83,572.5 451.31,572.5 453.78,572.5 456.25,572.5 458.72,572.5 461.2,572.5 463.67,572.5 466.14,572.5 468.62,572.5 471.09,572.5 473.56,572.5 476.04,572.5 478.51,572.5 480.98,572.5 483.46,572.5 485.93,572.5 488.4,540.6 490.88,540.6 493.35,540.6 495.82,540.6 498.3,540.6 500.77,540.6 503.24,540.6 505.72,540.6 508.19,540.6 510.66,540.6 513.14,540.6 515.61,540.6 518.08,540.6 520.55,540.6 523.03,540.6 525.5,540.6 527.97,404.8 530.45,404.8 532.92,404.8 535.39,404.8 537.87,404.8 540.34,404.8 542.81,404.8 545.29,404.8 547.76,404.8 550.23,404.8 552.71,404.8 555.18,404.8 557.65,404.8 560.13,404.8 562.6,404.8 565.07,404.8 567.55,404.8 570.02,391.5 572.49,391.5 574.97,391.5 577.44,391.5 579.91,391.5 582.38,391.5 584.86,391.5 587.33,391.5 589.8,391.5 592.28,391.5 594.75,391.5 597.22,391.5 599.7,391.5 602.17,391.5 604.64,391.5 607.12,391.5 609.59,391.5 612.06,379.2 614.54,379.2 617.01,379.2 619.48,379.2 621.96,379.2 624.43,379.2 626.9,379.2 629.38,379.2 631.85,379.2 634.32,379.2 636.8,379.2 639.27,379.2 641.74,379.2 644.21,379.2 646.69,379.2 649.16,379.2 651.63,381.4 654.11,381.4 656.58,381.4 659.05,381.4 661.53,381.4 664,381.4 666.47,381.4 668.95,381.4" class="bl"/>
<polyline points="424.1,574.6 426.57,574.6 429.05,574.6 431.52,574.6 433.99,574.6 436.47,574.6 438.94,574.6 441.41,574.6 443.89,574.6 446.36,572.5 448.83,572.5 451.31,572.5 453.78,572.5 456.25,572.5 458.72,572.5 461.2,572.5 463.67,572.5 466.14,572.5 468.62,572.5 471.09,572.5 473.56,572.5 476.04,572.5 478.51,572.5 480.98,572.5 483.46,572.5 485.93,572.5 488.4,540.6 490.88,540.6 493.35,540.6 495.82,540.6 498.3,540.6 500.77,540.6 503.24,540.6 505.72,540.6 508.19,540.6 510.66,540.6 513.14,540.6 515.61,540.6 518.08,540.6 520.55,540.6 523.03,540.6 525.5,540.6 527.97,404.8 530.45,404.8 532.92,404.8 535.39,404.8 537.87,404.8 540.34,404.8 542.81,404.8 545.29,404.8 547.76,404.8 550.23,404.8 552.71,404.8 555.18,404.8 557.65,404.8 560.13,404.8 562.6,404.8 565.07,404.8 567.55,404.8 570.02,391.5 572.49,391.5 574.97,391.5 577.44,391.5 579.91,391.5 582.38,391.5 584.86,391.5 587.33,391.5 589.8,391.5 592.28,391.5 594.75,391.5 597.22,391.5 599.7,391.5 602.17,391.5 604.64,391.5 607.12,391.5 609.59,391.5 612.06,379.2 614.54,379.2 617.01,379.2 619.48,379.2 621.96,379.2 624.43,379.2 626.9,379.2 629.38,379.2 631.85,379.2 634.32,379.2 636.8,379.2 639.27,379.2 641.74,379.2 644.21,379.2 646.69,379.2 649.16,379.2 651.63,381.4 654.11,381.4 656.58,381.4 659.05,381.4 661.53,381.4 664,381.4 666.47,381.4 668.95,381.4" class="bm"/>
<polyline points="424.1,547.8 426.57,547.8 429.05,547.8 431.52,547.8 433.99,547.8 436.47,547.8 438.94,547.8 441.41,547.8 443.89,547.8 446.36,546.2 448.83,546.2 451.31,546.2 453.78,546.2 456.25,546.2 458.72,546.2 461.2,546.2 463.67,546.2 466.14,546.2 468.62,546.2 471.09,546.2 473.56,546.2 476.04,546.2 478.51,546.2 480.98,546.2 483.46,546.2 485.93,546.2 488.4,515.6 490.88,515.6 493.35,515.6 495.82,515.6 498.3,515.6 500.77,515.6 503.24,515.6 505.72,515.6 508.19,515.6 510.66,515.6 513.14,515.6 515.61,515.6 518.08,515.6 520.55,515.6 523.03,515.6 525.5,515.6 527.97,378.5 530.45,378.5 532.92,378.5 535.39,378.5 537.87,378.5 540.34,378.5 542.81,378.5 545.29,378.5 547.76,378.5 550.23,378.5 552.71,378.5 555.18,378.5 557.65,378.5 560.13,378.5 562.6,378.5 565.07,378.5 567.55,378.5 570.02,367 572.49,367 574.97,367 577.44,367 579.91,367 582.38,367 584.86,367 587.33,367 589.8,367 592.28,367 594.75,367 597.22,367 599.7,367 602.17,367 604.64,367 607.12,367 609.59,367 612.06,355.6 614.54,355.6 617.01,355.6 619.48,355.6 621.96,355.6 624.43,355.6 626.9,355.6 629.38,355.6 631.85,355.6 634.32,355.6 636.8,355.6 639.27,355.6 641.74,355.6 644.21,355.6 646.69,355.6 649.16,355.6 651.63,357.6 654.11,357.6 656.58,357.6 659.05,357.6 661.53,357.6 664,357.6 666.47,357.6 668.95,357.6" class="pl"/>
<polyline points="424.1,547.8 426.57,547.8 429.05,547.8 431.52,547.8 433.99,547.8 436.47,547.8 438.94,547.8 441.41,547.8 443.89,547.8 446.36,546.2 448.83,546.2 451.31,546.2 453.78,546.2 456.25,546.2 458.72,546.2 461.2,546.2 463.67,546.2 466.14,546.2 468.62,546.2 471.09,546.2 473.56,546.2 476.04,546.2 478.51,546.2 480.98,546.2 483.46,546.2 485.93,546.2 488.4,515.6 490.88,515.6 493.35,515.6 495.82,515.6 498.3,515.6 500.77,515.6 503.24,515.6 505.72,515.6 508.19,515.6 510.66,515.6 513.14,515.6 515.61,515.6 518.08,515.6 520.55,515.6 523.03,515.6 525.5,515.6 527.97,378.5 530.45,378.5 532.92,378.5 535.39,378.5 537.87,378.5 540.34,378.5 542.81,378.5 545.29,378.5 547.76,378.5 550.23,378.5 552.71,378.5 555.18,378.5 557.65,378.5 560.13,378.5 562.6,378.5 565.07,378.5 567.55,378.5 570.02,367 572.49,367 574.97,367 577.44,367 579.91,367 582.38,367 584.86,367 587.33,367 589.8,367 592.28,367 594.75,367 597.22,367 599.7,367 602.17,367 604.64,367 607.12,367 609.59,367 612.06,355.6 614.54,355.6 617.01,355.6 619.48,355.6 621.96,355.6 624.43,355.6 626.9,355.6 629.38,355.6 631.85,355.6 634.32,355.6 636.8,355.6 639.27,355.6 641.74,355.6 644.21,355.6 646.69,355.6 649.16,355.6 651.63,357.6 654.11,357.6 656.58,357.6 659.05,357.6 661.53,357.6 664,357.6 666.47,357.6 668.95,357.6" class="pm"/>
<line x1="423.6" y1="430" x2="668.95" y2="430" class="dash"/>
<rect x="411.9" y="319.5" width="269.4" height="267" class="sp"/>
<rect x="419.5" y="326.5" width="11" height="11.5" rx="2.5" class="lg"/>
<line x1="410.1" y1="337.5" x2="411.9" y2="337.5" class="tk"/>
<text x="408.8" y="340.9" class="yt">−0.105</text>
<line x1="410.1" y1="376.1" x2="411.9" y2="376.1" class="tk"/>
<text x="408.8" y="379.5" class="yt">−0.110</text>
<line x1="410.1" y1="414.7" x2="411.9" y2="414.7" class="tk"/>
<text x="408.8" y="418.1" class="yt">−0.115</text>
<line x1="410.1" y1="453.3" x2="411.9" y2="453.3" class="tk"/>
<text x="408.8" y="456.7" class="yt">−0.120</text>
<line x1="410.1" y1="491.9" x2="411.9" y2="491.9" class="tk"/>
<text x="408.8" y="495.3" class="yt">−0.125</text>
<line x1="410.1" y1="530.5" x2="411.9" y2="530.5" class="tk"/>
<text x="408.8" y="533.9" class="yt">−0.130</text>
<line x1="410.1" y1="569.1" x2="411.9" y2="569.1" class="tk"/>
<text x="408.8" y="572.5" class="yt">−0.135</text>
<line x1="424.1" y1="586.5" x2="424.1" y2="588.3" class="tk"/>
<text x="424.1" y="595.7" class="xt">0</text>
<line x1="465.32" y1="586.5" x2="465.32" y2="588.3" class="tk"/>
<text x="465.32" y="595.7" class="xt">1</text>
<line x1="506.54" y1="586.5" x2="506.54" y2="588.3" class="tk"/>
<text x="506.54" y="595.7" class="xt">2</text>
<line x1="547.76" y1="586.5" x2="547.76" y2="588.3" class="tk"/>
<text x="547.76" y="595.7" class="xt">3</text>
<line x1="588.98" y1="586.5" x2="588.98" y2="588.3" class="tk"/>
<text x="588.98" y="595.7" class="xt">4</text>
<line x1="630.2" y1="586.5" x2="630.2" y2="588.3" class="tk"/>
<text x="630.2" y="595.7" class="xt">5</text>
<line x1="671.42" y1="586.5" x2="671.42" y2="588.3" class="tk"/>
<text x="671.42" y="595.7" class="xt">6</text>
<text x="546.3" y="609.8" class="xl">CPS</text>
<text x="523.7" y="631.1" class="cp">(d)</text>
<text transform="translate(377.3,453) rotate(-90)" class="yl">ITE estimates</text>
<polyline points="63.1,653.8 65.57,653.8 68.05,653.8 70.52,653.8 72.99,653.8 75.46,653.8 77.94,653.8 80.41,653.8 82.88,653.8 85.35,653.8 87.83,653.8 90.3,653.8 92.77,653.8 95.25,653.8 97.72,649.9 100.19,649.9 102.66,649.9 105.14,649.9 107.61,651.1 110.08,651.1 112.55,651.1 115.03,651.1 117.5,654.6 119.97,654.6 122.44,654.6 124.92,654.6 127.39,669 129.86,669 132.34,669 134.81,665.5 137.28,665.5 139.75,665.5 142.23,665.5 144.7,691.2 147.17,691.2 149.64,691.2 152.12,691.2 154.59,741 157.06,741 159.54,741 162.01,741 164.48,775.7 166.95,775.7 169.43,775.7 171.9,775.7 174.37,800.3 176.84,800.3 179.32,800.3 181.79,801.2 184.26,801.2 186.74,801.2 189.21,802.2 191.68,802.2 194.15,800.3 196.63,800.3 199.1,800.3 201.57,736 204.04,736 206.52,735 208.99,735 211.46,755.7 213.93,755.7 216.41,755.7 218.88,755.7 221.35,739.6 223.83,739.6 226.3,739.6 228.77,739.6 231.24,747 233.72,747 236.19,747 238.66,747 241.13,734.9 243.61,734.9 246.08,734.9 248.55,734.9 251.03,734.9 253.5,734.9 255.97,734.9 258.44,734.9 260.92,734.9 263.39,734.9 265.86,734.9 268.33,734.9 270.81,734.9 273.28,734.9 275.75,734.9 278.22,734.9 280.7,734.9 283.17,734.9 285.64,734.9 288.12,734.9 290.59,734.9 293.06,734.9 295.53,734.9 298.01,734.9 300.48,734.9 302.95,734.9 305.42,734.9 307.9,734.9" class="bl"/>
<polyline points="63.1,653.8 65.57,653.8 68.05,653.8 70.52,653.8 72.99,653.8 75.46,653.8 77.94,653.8 80.41,653.8 82.88,653.8 85.35,653.8 87.83,653.8 90.3,653.8 92.77,653.8 95.25,653.8 97.72,649.9 100.19,649.9 102.66,649.9 105.14,649.9 107.61,651.1 110.08,651.1 112.55,651.1 115.03,651.1 117.5,654.6 119.97,654.6 122.44,654.6 124.92,654.6 127.39,669 129.86,669 132.34,669 134.81,665.5 137.28,665.5 139.75,665.5 142.23,665.5 144.7,691.2 147.17,691.2 149.64,691.2 152.12,691.2 154.59,741 157.06,741 159.54,741 162.01,741 164.48,775.7 166.95,775.7 169.43,775.7 171.9,775.7 174.37,800.3 176.84,800.3 179.32,800.3 181.79,801.2 184.26,801.2 186.74,801.2 189.21,802.2 191.68,802.2 194.15,800.3 196.63,800.3 199.1,800.3 201.57,736 204.04,736 206.52,735 208.99,735 211.46,755.7 213.93,755.7 216.41,755.7 218.88,755.7 221.35,739.6 223.83,739.6 226.3,739.6 228.77,739.6 231.24,747 233.72,747 236.19,747 238.66,747 241.13,734.9 243.61,734.9 246.08,734.9 248.55,734.9 251.03,734.9 253.5,734.9 255.97,734.9 258.44,734.9 260.92,734.9 263.39,734.9 265.86,734.9 268.33,734.9 270.81,734.9 273.28,734.9 275.75,734.9 278.22,734.9 280.7,734.9 283.17,734.9 285.64,734.9 288.12,734.9 290.59,734.9 293.06,734.9 295.53,734.9 298.01,734.9 300.48,734.9 302.95,734.9 305.42,734.9 307.9,734.9" class="bm"/>
<polyline points="63.1,736.6 65.57,736.6 68.05,736.6 70.52,736.6 72.99,736.6 75.46,736.6 77.94,736.6 80.41,736.6 82.88,736.6 85.35,736.6 87.83,736.6 90.3,736.6 92.77,736.6 95.25,736.6 97.72,731.9 100.19,731.9 102.66,731.9 105.14,731.9 107.61,733.5 110.08,733.5 112.55,733.5 115.03,733.5 117.5,737.2 119.97,737.2 122.44,737.2 124.92,737.2 127.39,753.8 129.86,753.8 132.34,753.8 134.81,750.3 137.28,750.3 139.75,750.3 142.23,750.3 144.7,777.6 147.17,777.6 149.64,777.6 152.12,777.6 154.59,833.4 157.06,833.4 159.54,833.4 162.01,833.4 164.48,869.3 166.95,869.3 169.43,869.3 171.9,869.3 174.37,892.7 176.84,892.7 179.32,892.7 181.79,891.8 184.26,891.8 186.74,891.8 189.21,890.8 191.68,890.8 194.15,892.7 196.63,888.5 199.1,888.5 201.57,828.2 204.04,828.2 206.52,826.8 208.99,826.8 211.46,845.3 213.93,845.3 216.41,845.3 218.88,845.3 221.35,831.4 223.83,831.4 226.3,831.4 228.77,831.4 231.24,840.4 233.72,840.4 236.19,840.4 238.66,840.4 241.13,829.9 243.61,829.9 246.08,829.9 248.55,829.9 251.03,829.9 253.5,829.9 255.97,829.9 258.44,829.9 260.92,829.9 263.39,829.9 265.86,829.9 268.33,829.9 270.81,829.9 273.28,829.9 275.75,829.9 278.22,829.9 280.7,829.9 283.17,829.9 285.64,829.9 288.12,829.9 290.59,829.9 293.06,829.9 295.53,829.9 298.01,829.9 300.48,829.9 302.95,829.9 305.42,829.9 307.9,829.9" class="bl"/>
<polyline points="63.1,736.6 65.57,736.6 68.05,736.6 70.52,736.6 72.99,736.6 75.46,736.6 77.94,736.6 80.41,736.6 82.88,736.6 85.35,736.6 87.83,736.6 90.3,736.6 92.77,736.6 95.25,736.6 97.72,731.9 100.19,731.9 102.66,731.9 105.14,731.9 107.61,733.5 110.08,733.5 112.55,733.5 115.03,733.5 117.5,737.2 119.97,737.2 122.44,737.2 124.92,737.2 127.39,753.8 129.86,753.8 132.34,753.8 134.81,750.3 137.28,750.3 139.75,750.3 142.23,750.3 144.7,777.6 147.17,777.6 149.64,777.6 152.12,777.6 154.59,833.4 157.06,833.4 159.54,833.4 162.01,833.4 164.48,869.3 166.95,869.3 169.43,869.3 171.9,869.3 174.37,892.7 176.84,892.7 179.32,892.7 181.79,891.8 184.26,891.8 186.74,891.8 189.21,890.8 191.68,890.8 194.15,892.7 196.63,888.5 199.1,888.5 201.57,828.2 204.04,828.2 206.52,826.8 208.99,826.8 211.46,845.3 213.93,845.3 216.41,845.3 218.88,845.3 221.35,831.4 223.83,831.4 226.3,831.4 228.77,831.4 231.24,840.4 233.72,840.4 236.19,840.4 238.66,840.4 241.13,829.9 243.61,829.9 246.08,829.9 248.55,829.9 251.03,829.9 253.5,829.9 255.97,829.9 258.44,829.9 260.92,829.9 263.39,829.9 265.86,829.9 268.33,829.9 270.81,829.9 273.28,829.9 275.75,829.9 278.22,829.9 280.7,829.9 283.17,829.9 285.64,829.9 288.12,829.9 290.59,829.9 293.06,829.9 295.53,829.9 298.01,829.9 300.48,829.9 302.95,829.9 305.42,829.9 307.9,829.9" class="bm"/>
<polyline points="63.1,695.2 65.57,695.2 68.05,695.2 70.52,695.2 72.99,695.2 75.46,695.2 77.94,695.2 80.41,695.2 82.88,695.2 85.35,695.2 87.83,695.2 90.3,695.2 92.77,695.2 95.25,695.2 97.72,690.9 100.19,690.9 102.66,690.9 105.14,690.9 107.61,692.3 110.08,692.3 112.55,692.3 115.03,692.3 117.5,695.9 119.97,695.9 122.44,695.9 124.92,695.9 127.39,711.4 129.86,711.4 132.34,711.4 134.81,707.9 137.28,707.9 139.75,707.9 142.23,707.9 144.7,734.4 147.17,734.4 149.64,734.4 152.12,734.4 154.59,787.2 157.06,787.2 159.54,787.2 162.01,787.2 164.48,822.5 166.95,822.5 169.43,822.5 171.9,822.5 174.37,846.5 176.84,846.5 179.32,846.5 181.79,846.5 184.26,846.5 186.74,846.5 189.21,846.5 191.68,846.5 194.15,846.5 196.63,844.4 199.1,844.4 201.57,782.1 204.04,782.1 206.52,780.9 208.99,780.9 211.46,800.5 213.93,800.5 216.41,800.5 218.88,800.5 221.35,785.5 223.83,785.5 226.3,785.5 228.77,785.5 231.24,793.7 233.72,793.7 236.19,793.7 238.66,793.7 241.13,782.4 243.61,782.4 246.08,782.4 248.55,782.4 251.03,782.4 253.5,782.4 255.97,782.4 258.44,782.4 260.92,782.4 263.39,782.4 265.86,782.4 268.33,782.4 270.81,782.4 273.28,782.4 275.75,782.4 278.22,782.4 280.7,782.4 283.17,782.4 285.64,782.4 288.12,782.4 290.59,782.4 293.06,782.4 295.53,782.4 298.01,782.4 300.48,782.4 302.95,782.4 305.42,782.4 307.9,782.4" class="pl"/>
<polyline points="63.1,695.2 65.57,695.2 68.05,695.2 70.52,695.2 72.99,695.2 75.46,695.2 77.94,695.2 80.41,695.2 82.88,695.2 85.35,695.2 87.83,695.2 90.3,695.2 92.77,695.2 95.25,695.2 97.72,690.9 100.19,690.9 102.66,690.9 105.14,690.9 107.61,692.3 110.08,692.3 112.55,692.3 115.03,692.3 117.5,695.9 119.97,695.9 122.44,695.9 124.92,695.9 127.39,711.4 129.86,711.4 132.34,711.4 134.81,707.9 137.28,707.9 139.75,707.9 142.23,707.9 144.7,734.4 147.17,734.4 149.64,734.4 152.12,734.4 154.59,787.2 157.06,787.2 159.54,787.2 162.01,787.2 164.48,822.5 166.95,822.5 169.43,822.5 171.9,822.5 174.37,846.5 176.84,846.5 179.32,846.5 181.79,846.5 184.26,846.5 186.74,846.5 189.21,846.5 191.68,846.5 194.15,846.5 196.63,844.4 199.1,844.4 201.57,782.1 204.04,782.1 206.52,780.9 208.99,780.9 211.46,800.5 213.93,800.5 216.41,800.5 218.88,800.5 221.35,785.5 223.83,785.5 226.3,785.5 228.77,785.5 231.24,793.7 233.72,793.7 236.19,793.7 238.66,793.7 241.13,782.4 243.61,782.4 246.08,782.4 248.55,782.4 251.03,782.4 253.5,782.4 255.97,782.4 258.44,782.4 260.92,782.4 263.39,782.4 265.86,782.4 268.33,782.4 270.81,782.4 273.28,782.4 275.75,782.4 278.22,782.4 280.7,782.4 283.17,782.4 285.64,782.4 288.12,782.4 290.59,782.4 293.06,782.4 295.53,782.4 298.01,782.4 300.48,782.4 302.95,782.4 305.42,782.4 307.9,782.4" class="pm"/>
<line x1="62.8" y1="829" x2="307.9" y2="829" class="dash"/>
<rect x="50.5" y="638" width="269.5" height="267.2" class="sp"/>
<rect x="301.3" y="645" width="11" height="11.5" rx="2.5" class="lg"/>
<line x1="48.7" y1="654.2" x2="50.5" y2="654.2" class="tk"/>
<text x="47.4" y="657.6" class="yt">−0.1025</text>
<line x1="48.7" y1="684.35" x2="50.5" y2="684.35" class="tk"/>
<text x="47.4" y="687.75" class="yt">−0.1050</text>
<line x1="48.7" y1="714.5" x2="50.5" y2="714.5" class="tk"/>
<text x="47.4" y="717.9" class="yt">−0.1075</text>
<line x1="48.7" y1="744.65" x2="50.5" y2="744.65" class="tk"/>
<text x="47.4" y="748.05" class="yt">−0.1100</text>
<line x1="48.7" y1="774.8" x2="50.5" y2="774.8" class="tk"/>
<text x="47.4" y="778.2" class="yt">−0.1125</text>
<line x1="48.7" y1="804.95" x2="50.5" y2="804.95" class="tk"/>
<text x="47.4" y="808.35" class="yt">−0.1150</text>
<line x1="48.7" y1="835.1" x2="50.5" y2="835.1" class="tk"/>
<text x="47.4" y="838.5" class="yt">−0.1175</text>
<line x1="48.7" y1="865.25" x2="50.5" y2="865.25" class="tk"/>
<text x="47.4" y="868.65" class="yt">−0.1200</text>
<line x1="48.7" y1="895.4" x2="50.5" y2="895.4" class="tk"/>
<text x="47.4" y="898.8" class="yt">−0.1225</text>
<line x1="53.3" y1="905.2" x2="53.3" y2="907" class="tk"/>
<text x="53.3" y="914.4" class="xt">0</text>
<line x1="102.64" y1="905.2" x2="102.64" y2="907" class="tk"/>
<text x="102.64" y="914.4" class="xt">5</text>
<line x1="151.98" y1="905.2" x2="151.98" y2="907" class="tk"/>
<text x="151.98" y="914.4" class="xt">10</text>
<line x1="201.32" y1="905.2" x2="201.32" y2="907" class="tk"/>
<text x="201.32" y="914.4" class="xt">15</text>
<line x1="250.66" y1="905.2" x2="250.66" y2="907" class="tk"/>
<text x="250.66" y="914.4" class="xt">20</text>
<line x1="300" y1="905.2" x2="300" y2="907" class="tk"/>
<text x="300" y="914.4" class="xt">25</text>
<text x="185.2" y="928.3" class="xl">Number of drugs</text>
<text x="160.2" y="949.2" class="cp">(e)</text>
<text transform="translate(11.9,770.9) rotate(-90)" class="yl">ITE estimates</text>
<polyline points="426.9,649.9 429.37,649.9 431.83,649.9 434.3,649.9 436.76,649.9 439.23,649.9 441.7,649.9 444.16,649.9 446.63,649.9 449.09,649.9 451.56,649.9 454.03,649.9 456.49,649.9 458.96,649.9 461.42,649.9 463.89,649.9 466.36,649.9 468.82,649.9 471.29,649.9 473.75,649.9 476.22,649.9 478.69,649.9 481.15,649.9 483.62,649.9 486.08,649.9 488.55,649.9 491.02,649.9 493.48,649.9 495.95,649.9 498.41,649.9 500.88,649.9 503.35,649.9 505.81,649.9 508.28,649.9 510.74,649.9 513.21,649.9 515.68,649.9 518.14,649.9 520.61,649.9 523.07,649.9 525.54,649.9 528.01,649.9 530.47,649.9 532.94,649.9 535.4,649.9 537.87,649.9 540.34,649.9 542.8,649.9 545.27,649.9 547.73,649.9 550.2,649.9 552.67,822.8 555.13,822.8 557.6,822.8 560.06,822.8 562.53,822.8 565,822.8 567.46,822.8 569.93,822.8 572.39,822.8 574.86,822.8 577.33,822.8 579.79,822.8 582.26,822.8 584.72,822.8 587.19,822.8 589.66,822.8 592.12,822.8 594.59,822.8 597.05,822.8 599.52,822.8 601.99,822.8 604.45,822.8 606.92,822.8 609.38,822.8 611.85,822.8 614.32,822.8 616.78,822.8 619.25,822.8 621.71,822.8 624.18,822.8 626.65,822.8 629.11,822.8 631.58,822.8 634.04,822.8 636.51,822.8 638.98,822.8 641.44,822.8 643.91,822.8 646.37,822.8 648.84,822.8 651.31,822.8 653.77,822.8 656.24,822.8 658.7,822.8 661.17,822.8 663.64,822.8 666.1,822.8 668.57,822.8 671.03,822.8" class="bl"/>
<polyline points="426.9,649.9 429.37,649.9 431.83,649.9 434.3,649.9 436.76,649.9 439.23,649.9 441.7,649.9 444.16,649.9 446.63,649.9 449.09,649.9 451.56,649.9 454.03,649.9 456.49,649.9 458.96,649.9 461.42,649.9 463.89,649.9 466.36,649.9 468.82,649.9 471.29,649.9 473.75,649.9 476.22,649.9 478.69,649.9 481.15,649.9 483.62,649.9 486.08,649.9 488.55,649.9 491.02,649.9 493.48,649.9 495.95,649.9 498.41,649.9 500.88,649.9 503.35,649.9 505.81,649.9 508.28,649.9 510.74,649.9 513.21,649.9 515.68,649.9 518.14,649.9 520.61,649.9 523.07,649.9 525.54,649.9 528.01,649.9 530.47,649.9 532.94,649.9 535.4,649.9 537.87,649.9 540.34,649.9 542.8,649.9 545.27,649.9 547.73,649.9 550.2,649.9 552.67,822.8 555.13,822.8 557.6,822.8 560.06,822.8 562.53,822.8 565,822.8 567.46,822.8 569.93,822.8 572.39,822.8 574.86,822.8 577.33,822.8 579.79,822.8 582.26,822.8 584.72,822.8 587.19,822.8 589.66,822.8 592.12,822.8 594.59,822.8 597.05,822.8 599.52,822.8 601.99,822.8 604.45,822.8 606.92,822.8 609.38,822.8 611.85,822.8 614.32,822.8 616.78,822.8 619.25,822.8 621.71,822.8 624.18,822.8 626.65,822.8 629.11,822.8 631.58,822.8 634.04,822.8 636.51,822.8 638.98,822.8 641.44,822.8 643.91,822.8 646.37,822.8 648.84,822.8 651.31,822.8 653.77,822.8 656.24,822.8 658.7,822.8 661.17,822.8 663.64,822.8 666.1,822.8 668.57,822.8 671.03,822.8" class="bm"/>
<polyline points="426.9,740 429.37,740 431.83,740 434.3,740 436.76,740 439.23,740 441.7,740 444.16,740 446.63,740 449.09,740 451.56,740 454.03,740 456.49,740 458.96,740 461.42,740 463.89,740 466.36,740 468.82,740 471.29,740 473.75,740 476.22,740 478.69,740 481.15,740 483.62,740 486.08,740 488.55,740 491.02,740 493.48,740 495.95,740 498.41,740 500.88,740 503.35,740 505.81,740 508.28,740 510.74,740 513.21,740 515.68,740 518.14,740 520.61,740 523.07,740 525.54,740 528.01,740 530.47,740 532.94,740 535.4,740 537.87,740 540.34,740 542.8,740 545.27,740 547.73,740 550.2,740 552.67,892.8 555.13,892.8 557.6,892.8 560.06,892.8 562.53,892.8 565,892.8 567.46,892.8 569.93,892.8 572.39,892.8 574.86,892.8 577.33,892.8 579.79,892.8 582.26,892.8 584.72,892.8 587.19,892.8 589.66,892.8 592.12,892.8 594.59,892.8 597.05,892.8 599.52,892.8 601.99,892.8 604.45,892.8 606.92,892.8 609.38,892.8 611.85,892.8 614.32,892.8 616.78,892.8 619.25,892.8 621.71,892.8 624.18,892.8 626.65,892.8 629.11,892.8 631.58,892.8 634.04,892.8 636.51,892.8 638.98,892.8 641.44,892.8 643.91,892.8 646.37,892.8 648.84,892.8 651.31,892.8 653.77,892.8 656.24,892.8 658.7,892.8 661.17,892.8 663.64,892.8 666.1,892.8 668.57,892.8 671.03,892.8" class="bl"/>
<polyline points="426.9,740 429.37,740 431.83,740 434.3,740 436.76,740 439.23,740 441.7,740 444.16,740 446.63,740 449.09,740 451.56,740 454.03,740 456.49,740 458.96,740 461.42,740 463.89,740 466.36,740 468.82,740 471.29,740 473.75,740 476.22,740 478.69,740 481.15,740 483.62,740 486.08,740 488.55,740 491.02,740 493.48,740 495.95,740 498.41,740 500.88,740 503.35,740 505.81,740 508.28,740 510.74,740 513.21,740 515.68,740 518.14,740 520.61,740 523.07,740 525.54,740 528.01,740 530.47,740 532.94,740 535.4,740 537.87,740 540.34,740 542.8,740 545.27,740 547.73,740 550.2,740 552.67,892.8 555.13,892.8 557.6,892.8 560.06,892.8 562.53,892.8 565,892.8 567.46,892.8 569.93,892.8 572.39,892.8 574.86,892.8 577.33,892.8 579.79,892.8 582.26,892.8 584.72,892.8 587.19,892.8 589.66,892.8 592.12,892.8 594.59,892.8 597.05,892.8 599.52,892.8 601.99,892.8 604.45,892.8 606.92,892.8 609.38,892.8 611.85,892.8 614.32,892.8 616.78,892.8 619.25,892.8 621.71,892.8 624.18,892.8 626.65,892.8 629.11,892.8 631.58,892.8 634.04,892.8 636.51,892.8 638.98,892.8 641.44,892.8 643.91,892.8 646.37,892.8 648.84,892.8 651.31,892.8 653.77,892.8 656.24,892.8 658.7,892.8 661.17,892.8 663.64,892.8 666.1,892.8 668.57,892.8 671.03,892.8" class="bm"/>
<polyline points="426.9,694.6 429.37,694.6 431.83,694.6 434.3,694.6 436.76,694.6 439.23,694.6 441.7,694.6 444.16,694.6 446.63,694.6 449.09,694.6 451.56,694.6 454.03,694.6 456.49,694.6 458.96,694.6 461.42,694.6 463.89,694.6 466.36,694.6 468.82,694.6 471.29,694.6 473.75,694.6 476.22,694.6 478.69,694.6 481.15,694.6 483.62,694.6 486.08,694.6 488.55,694.6 491.02,694.6 493.48,694.6 495.95,694.6 498.41,694.6 500.88,694.6 503.35,694.6 505.81,694.6 508.28,694.6 510.74,694.6 513.21,694.6 515.68,694.6 518.14,694.6 520.61,694.6 523.07,694.6 525.54,694.6 528.01,694.6 530.47,694.6 532.94,694.6 535.4,694.6 537.87,694.6 540.34,694.6 542.8,694.6 545.27,694.6 547.73,694.6 550.2,694.6 552.67,857.7 555.13,857.7 557.6,857.7 560.06,857.7 562.53,857.7 565,857.7 567.46,857.7 569.93,857.7 572.39,857.7 574.86,857.7 577.33,857.7 579.79,857.7 582.26,857.7 584.72,857.7 587.19,857.7 589.66,857.7 592.12,857.7 594.59,857.7 597.05,857.7 599.52,857.7 601.99,857.7 604.45,857.7 606.92,857.7 609.38,857.7 611.85,857.7 614.32,857.7 616.78,857.7 619.25,857.7 621.71,857.7 624.18,857.7 626.65,857.7 629.11,857.7 631.58,857.7 634.04,857.7 636.51,857.7 638.98,857.7 641.44,857.7 643.91,857.7 646.37,857.7 648.84,857.7 651.31,857.7 653.77,857.7 656.24,857.7 658.7,857.7 661.17,857.7 663.64,857.7 666.1,857.7 668.57,857.7 671.03,857.7" class="pl"/>
<polyline points="426.9,694.6 429.37,694.6 431.83,694.6 434.3,694.6 436.76,694.6 439.23,694.6 441.7,694.6 444.16,694.6 446.63,694.6 449.09,694.6 451.56,694.6 454.03,694.6 456.49,694.6 458.96,694.6 461.42,694.6 463.89,694.6 466.36,694.6 468.82,694.6 471.29,694.6 473.75,694.6 476.22,694.6 478.69,694.6 481.15,694.6 483.62,694.6 486.08,694.6 488.55,694.6 491.02,694.6 493.48,694.6 495.95,694.6 498.41,694.6 500.88,694.6 503.35,694.6 505.81,694.6 508.28,694.6 510.74,694.6 513.21,694.6 515.68,694.6 518.14,694.6 520.61,694.6 523.07,694.6 525.54,694.6 528.01,694.6 530.47,694.6 532.94,694.6 535.4,694.6 537.87,694.6 540.34,694.6 542.8,694.6 545.27,694.6 547.73,694.6 550.2,694.6 552.67,857.7 555.13,857.7 557.6,857.7 560.06,857.7 562.53,857.7 565,857.7 567.46,857.7 569.93,857.7 572.39,857.7 574.86,857.7 577.33,857.7 579.79,857.7 582.26,857.7 584.72,857.7 587.19,857.7 589.66,857.7 592.12,857.7 594.59,857.7 597.05,857.7 599.52,857.7 601.99,857.7 604.45,857.7 606.92,857.7 609.38,857.7 611.85,857.7 614.32,857.7 616.78,857.7 619.25,857.7 621.71,857.7 624.18,857.7 626.65,857.7 629.11,857.7 631.58,857.7 634.04,857.7 636.51,857.7 638.98,857.7 641.44,857.7 643.91,857.7 646.37,857.7 648.84,857.7 651.31,857.7 653.77,857.7 656.24,857.7 658.7,857.7 661.17,857.7 663.64,857.7 666.1,857.7 668.57,857.7 671.03,857.7" class="pm"/>
<line x1="426.1" y1="798.4" x2="671.03" y2="798.4" class="dash"/>
<rect x="414.5" y="638" width="269" height="267.2" class="sp"/>
<rect x="664.5" y="645" width="11" height="11.5" rx="2.5" class="lg"/>
<line x1="412.7" y1="647.5" x2="414.5" y2="647.5" class="tk"/>
<text x="411.4" y="650.9" class="yt">−0.1050</text>
<line x1="412.7" y1="678.89" x2="414.5" y2="678.89" class="tk"/>
<text x="411.4" y="682.29" class="yt">−0.1075</text>
<line x1="412.7" y1="710.28" x2="414.5" y2="710.28" class="tk"/>
<text x="411.4" y="713.68" class="yt">−0.1100</text>
<line x1="412.7" y1="741.67" x2="414.5" y2="741.67" class="tk"/>
<text x="411.4" y="745.07" class="yt">−0.1125</text>
<line x1="412.7" y1="773.06" x2="414.5" y2="773.06" class="tk"/>
<text x="411.4" y="776.46" class="yt">−0.1150</text>
<line x1="412.7" y1="804.45" x2="414.5" y2="804.45" class="tk"/>
<text x="411.4" y="807.85" class="yt">−0.1175</text>
<line x1="412.7" y1="835.84" x2="414.5" y2="835.84" class="tk"/>
<text x="411.4" y="839.24" class="yt">−0.1200</text>
<line x1="412.7" y1="867.23" x2="414.5" y2="867.23" class="tk"/>
<text x="411.4" y="870.63" class="yt">−0.1225</text>
<line x1="412.7" y1="898.62" x2="414.5" y2="898.62" class="tk"/>
<text x="411.4" y="902.02" class="yt">−0.1250</text>
<line x1="426.9" y1="905.2" x2="426.9" y2="907" class="tk"/>
<text x="426.9" y="914.4" class="xt">0.0</text>
<line x1="476.22" y1="905.2" x2="476.22" y2="907" class="tk"/>
<text x="476.22" y="914.4" class="xt">0.2</text>
<line x1="525.54" y1="905.2" x2="525.54" y2="907" class="tk"/>
<text x="525.54" y="914.4" class="xt">0.4</text>
<line x1="574.86" y1="905.2" x2="574.86" y2="907" class="tk"/>
<text x="574.86" y="914.4" class="xt">0.6</text>
<line x1="624.18" y1="905.2" x2="624.18" y2="907" class="tk"/>
<text x="624.18" y="914.4" class="xt">0.8</text>
<line x1="673.5" y1="905.2" x2="673.5" y2="907" class="tk"/>
<text x="673.5" y="914.4" class="xt">1.0</text>
<text x="548.9" y="928.3" class="xl">Hospital or ER last 6 months</text>
<text x="523.7" y="949.2" class="cp">(f)</text>
<text transform="translate(375.4,771) rotate(-90)" class="yl">ITE estimates</text>
</svg>
</body></html>
